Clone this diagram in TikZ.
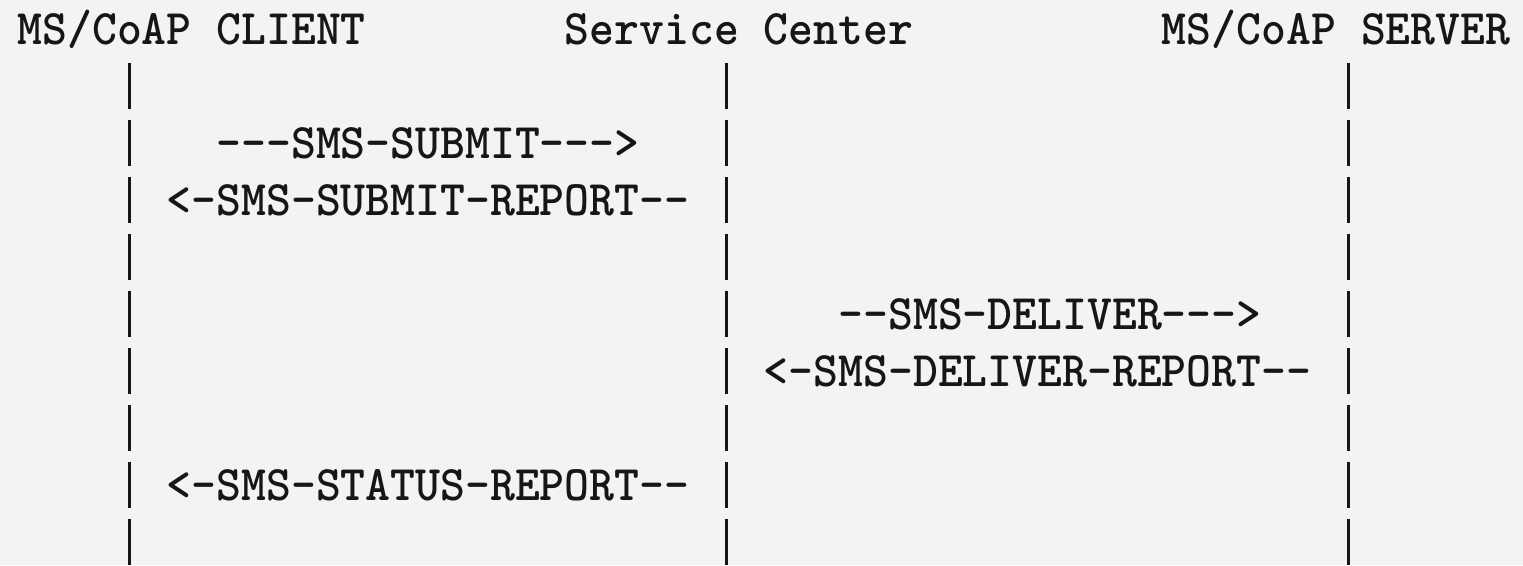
\documentclass[tikz,border=0pt]{standalone}
\usetikzlibrary{calc}

\definecolor{paper}{RGB}{243,243,243}
\definecolor{ink}{RGB}{22,22,22}

% monospaced character cell: 24.88pt wide, rows 57pt apart
\newcommand\asciifont{\ttfamily\bfseries\fontsize{47.39}{57}\selectfont}
% a hyphen that never merges with its neighbour into a dash
\newcommand\hy{-\kern0pt }
\newcommand\tall[1]{\scalebox{1}[1.05]{#1}}

\tikzset{
  ascii/.style={anchor=base west, inner sep=0pt, outer sep=0pt,
                text=ink, font=\asciifont},
  lifeline/.style={draw=ink, line width=2.8pt,
                   dash pattern=on 46pt off 11pt},
}

\begin{document}
\begin{tikzpicture}[x=1pt,y=1pt]
  \fill[paper] (0,0) rectangle (1523,-565);
  \useasboundingbox (0,0) rectangle (1523,-565);

  % column c starts at x = 17.5 + c*24.88
  % header row
  \node[ascii] (client) at ({17.5+0*24.88},-44.5)  {\tall{MS/CoAP CLIENT}};
  \node[ascii] (center) at ({17.5+22*24.88},-44.5) {\tall{Service Center}};
  \node[ascii] (server) at ({17.5+46*24.88},-44.5) {\tall{MS/CoAP SERVER}};

  % lifelines
  \coordinate (clientTop) at ({17.5+4.5*24.88},-63);
  \coordinate (clientEnd) at ({17.5+4.5*24.88},-565);
  \coordinate (centerTop) at ({17.5+28.5*24.88},-63);
  \coordinate (centerEnd) at ({17.5+28.5*24.88},-565);
  \coordinate (serverTop) at ({17.5+53.5*24.88},-63);
  \coordinate (serverEnd) at ({17.5+53.5*24.88},-565);
  \draw[lifeline] (clientTop) -- (clientEnd);
  \draw[lifeline] (centerTop) -- (centerEnd);
  \draw[lifeline] (serverTop) -- (serverEnd);

  % messages
  \node[ascii] (submit) at ({17.5+8*24.88},-158.5)
    {\tall{\hy\hy\hy SMS\hy SUBMIT\hy\hy\hy>}};
  \node[ascii] (submitReport) at ({17.5+6*24.88},-215.5)
    {\tall{<\hy SMS\hy SUBMIT\hy REPORT\hy\hy}};
  \node[ascii] (deliver) at ({17.5+33*24.88},-329.5)
    {\tall{\hy\hy SMS\hy DELIVER\hy\hy\hy>}};
  \node[ascii] (deliverReport) at ({17.5+30*24.88},-386.5)
    {\tall{<\hy SMS\hy DELIVER\hy REPORT\hy\hy}};
  \node[ascii] (statusReport) at ({17.5+6*24.88},-500.5)
    {\tall{<\hy SMS\hy STATUS\hy REPORT\hy\hy}};
\end{tikzpicture}
\end{document}
